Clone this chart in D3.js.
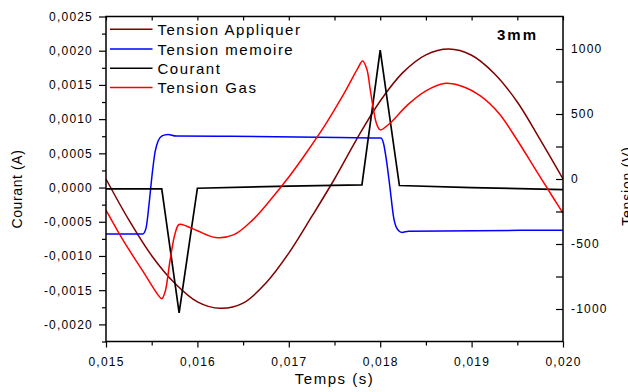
<!DOCTYPE html>
<html>
<head>
<meta charset="utf-8">
<script src="https://cdn.jsdelivr.net/npm/d3@7"></script>
<style>
  html, body { margin: 0; padding: 0; background: #fff; overflow: hidden; }
  svg { display: block; font-family: "Liberation Sans", Arial, sans-serif; }
</style>
</head>
<body>
<svg id="chart" width="628" height="392"></svg>
<script>
// Time (s) / value pairs for each trace
const tensionAppliquer = [
  [0.01500, 0], [0.01525, -315], [0.01550, -590], [0.01575, -800],
  [0.01600, -945], [0.01625, -995], [0.01650, -955], [0.01675, -800],
  [0.01700, -570], [0.01725, -290], [0.01750, 0], [0.01775, 315],
  [0.01800, 600], [0.01825, 820], [0.01850, 955], [0.01875, 1000],
  [0.01900, 952], [0.01925, 810], [0.01950, 592], [0.01975, 302],
  [0.02000, 0]
];

const tensionMemoire = [
  [0.015000, -424], [0.015402, -424], [0.015438, -378], [0.015470, -200],
  [0.015504, 31], [0.015537, 208], [0.015570, 293], [0.015613, 332],
  [0.015679, 343], [0.015766, 330], [0.016358, 329], [0.017900, 316],
  [0.018008, 315], [0.018036, 275], [0.018073, 121], [0.018110, -85],
  [0.018146, -291], [0.018183, -380], [0.018238, -411], [0.018310, -401],
  [0.020000, -394]
];

const courant = [
  [0.015000, -0.00002], [0.015610, -0.00002], [0.015800, -0.00183],
  [0.016000, -0.00001], [0.017000, 0.00002], [0.017800, 0.00004],
  [0.018000, 0.00201], [0.018210, 0.00003], [0.019000, 0.00000],
  [0.020000, -0.00003]
];

const tensionGas = [
  [0.015000, -239], [0.015200, -486], [0.015400, -705], [0.015573, -895],
  [0.015610, -921], [0.015646, -870], [0.015701, -625], [0.015756, -419],
  [0.015799, -350], [0.015884, -363], [0.016000, -398], [0.016200, -450],
  [0.016400, -428], [0.016600, -318], [0.016800, -160], [0.017000, 15],
  [0.017200, 210], [0.017400, 418], [0.017600, 652], [0.017750, 845],
  [0.017808, 908], [0.017854, 845], [0.017891, 687], [0.017927, 532],
  [0.017964, 417], [0.018000, 378], [0.018100, 425], [0.018300, 570],
  [0.018500, 678], [0.018700, 735], [0.018900, 712], [0.019100, 637],
  [0.019300, 504], [0.019500, 298], [0.019700, 72], [0.019900, -152],
  [0.020000, -262]
];

const xTicks = [0.015, 0.016, 0.017, 0.018, 0.019, 0.020];
const xMinorTicks = [0.0155, 0.0165, 0.0175, 0.0185, 0.0195];
const courantTicks = [-0.0020, -0.0015, -0.0010, -0.0005, 0.0000, 0.0005, 0.0010, 0.0015, 0.0020, 0.0025];
const courantMinorTicks = [-0.00225, -0.00175, -0.00125, -0.00075, -0.00025, 0.00025, 0.00075, 0.00125, 0.00175, 0.00225];
const tensionTicks = [-1000, -500, 0, 500, 1000];
const tensionMinorTicks = [-750, -250, 250, 750];

const legendItems = [
  { label: "Tension Appliquer", color: "#7f0000" },
  { label: "Tension memoire", color: "#0000ff" },
  { label: "Courant", color: "#000000" },
  { label: "Tension Gas", color: "#ff0000" }
];

const svg = d3.select("#chart");
const plotLeft = 106, plotRight = 563, plotTop = 16.5, plotBottom = 341.5;

const x = d3.scaleLinear().domain([0.015, 0.020]).range([plotLeft, plotRight]);
const yI = d3.scaleLinear().domain([-0.00225, 0.0025]).range([plotBottom, plotTop]);
const yV = d3.scaleLinear().domain([-1250, 1250]).range([plotBottom, plotTop]);

const comma = f => (v => f(v).replace(".", ",").replace("−", "-"));
const fx = comma(d3.format(".3f"));
const fI = comma(d3.format(".4f"));
const fV = v => String(v);

// Traces
const lineSmooth = d3.line().x(d => x(d[0])).y(d => yV(d[1])).curve(d3.curveCatmullRom.alpha(0.5));
const lineStep = d3.line().x(d => x(d[0])).y(d => yV(d[1])).curve(d3.curveMonotoneX);
const lineI = d3.line().x(d => x(d[0])).y(d => yI(d[1]));

const plot = svg.append("g");
plot.append("path").datum(tensionAppliquer).attr("d", lineSmooth)
  .attr("fill", "none").attr("stroke", "#7f0000").attr("stroke-width", 1.5);
plot.append("path").datum(tensionMemoire).attr("d", lineStep)
  .attr("fill", "none").attr("stroke", "#0000ff").attr("stroke-width", 1.5);
plot.append("path").datum(courant).attr("d", lineI)
  .attr("fill", "none").attr("stroke", "#000").attr("stroke-width", 1.7)
  .attr("stroke-linejoin", "miter");
plot.append("path").datum(tensionGas).attr("d", lineSmooth)
  .attr("fill", "none").attr("stroke", "#ff0000").attr("stroke-width", 1.5);

// Axes
function styleAxis(g) {
  g.select(".domain").remove();
  g.selectAll("line").attr("stroke", "#000").attr("stroke-width", 1.2);
  g.selectAll("text").attr("fill", "#000").attr("font-size", "12px")
    .attr("letter-spacing", "1.2px");
}

// bottom
svg.append("g").attr("transform", `translate(0,${plotBottom})`)
  .call(d3.axisBottom(x).tickValues(xMinorTicks).tickSize(4).tickFormat(""))
  .call(styleAxis);
svg.append("g").attr("transform", `translate(0,${plotBottom})`)
  .call(d3.axisBottom(x).tickValues(xTicks).tickSize(6).tickPadding(10).tickFormat(fx))
  .call(styleAxis);
// top (inward ticks)
svg.append("g").attr("transform", `translate(0,${plotTop})`)
  .call(d3.axisBottom(x).tickValues(xTicks.concat(xMinorTicks)).tickSize(4).tickFormat(""))
  .call(styleAxis);
// left
svg.append("g").attr("transform", `translate(${plotLeft},0)`)
  .call(d3.axisLeft(yI).tickValues(courantMinorTicks).tickSize(4).tickFormat(""))
  .call(styleAxis);
svg.append("g").attr("transform", `translate(${plotLeft},0)`)
  .call(d3.axisLeft(yI).tickValues(courantTicks).tickSize(7).tickPadding(6).tickFormat(fI))
  .call(styleAxis);
// right (inward ticks, labels outside)
svg.append("g").attr("transform", `translate(${plotRight},0)`)
  .call(d3.axisLeft(yV).tickValues(tensionTicks.concat(tensionMinorTicks)).tickSize(7).tickFormat(""))
  .call(styleAxis);
svg.append("g").attr("transform", `translate(${plotRight},0)`)
  .selectAll("text").data(tensionTicks).join("text")
  .attr("x", 8).attr("y", d => yV(d)).attr("dy", "0.35em")
  .attr("font-size", "12px").attr("letter-spacing", "1.2px")
  .text(fV);

// Frame
svg.append("rect").attr("x", plotLeft).attr("y", plotTop)
  .attr("width", plotRight - plotLeft).attr("height", plotBottom - plotTop)
  .attr("fill", "none").attr("stroke", "#000").attr("stroke-width", 1.5);

// Axis titles
svg.append("text").attr("x", (plotLeft + plotRight) / 2).attr("y", 384)
  .attr("text-anchor", "middle").attr("font-size", "15px").attr("letter-spacing", "1.5px")
  .text("Temps (s)");
svg.append("text").attr("transform", "translate(22,189) rotate(-90)")
  .attr("text-anchor", "middle").attr("font-size", "14px").attr("letter-spacing", "0.6px")
  .text("Courant (A)");
svg.append("text").attr("transform", "translate(632,186) rotate(-90)")
  .attr("text-anchor", "middle").attr("font-size", "14px").attr("letter-spacing", "0.8px")
  .text("Tension (V)");

// Annotation
svg.append("text").attr("x", 497).attr("y", 40)
  .attr("font-size", "15px").attr("font-weight", "bold").attr("letter-spacing", "2px")
  .text("3mm");

// Legend
const legend = svg.append("g");
const rowY = [29.3, 49, 68.3, 87.5];
legendItems.forEach((it, i) => {
  legend.append("line").attr("x1", 110).attr("x2", 152.5)
    .attr("y1", rowY[i]).attr("y2", rowY[i])
    .attr("stroke", it.color).attr("stroke-width", 1.5);
  legend.append("text").attr("x", 157.5).attr("y", rowY[i] + 5.5)
    .attr("font-size", "15px").attr("letter-spacing", "1.5px")
    .text(it.label);
});
</script>
</body>
</html>
